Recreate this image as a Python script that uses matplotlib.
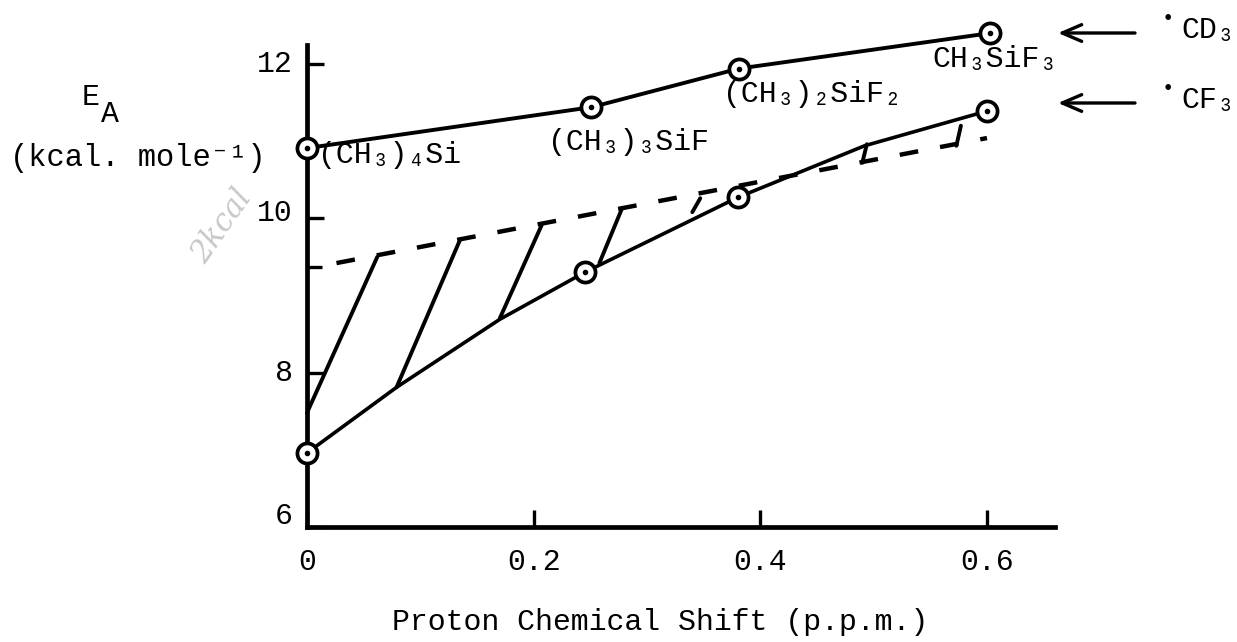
import matplotlib
matplotlib.use("Agg")
import matplotlib.pyplot as plt
import matplotlib.transforms as mtransforms

# E_A for .CD3 attack (upper line) and .CF3 attack (lower curve)
cd3_shift = [0.0, 0.251, 0.381, 0.603]
cd3_ea = [10.91, 11.44, 11.94, 12.40]
compounds = ["(CH₃)₄Si", "(CH₃)₃SiF", "(CH₃)₂SiF₂", "CH₃SiF₃"]

cf3_shift = [0.0, 0.245, 0.380, 0.600]
cf3_ea = [6.96, 9.30, 10.27, 11.39]
# the hand drawn curve through the CF3 points
cf3_curve_shift = [0.0, 0.079, 0.170, 0.245, 0.380, 0.492, 0.600]
cf3_curve_ea = [6.96, 7.81, 8.69, 9.30, 10.27, 10.94, 11.39]

dash_shift = [0.026, 0.600]
dash_ea = [9.42, 11.04]

# hatch strokes between dashed line and CF3 curve, (shift, E_A) at each end
hatch_start = [(0.000, 7.48), (0.079, 7.81), (0.170, 8.70), (0.258, 9.42),
               (0.340, 10.08), (0.490, 10.72), (0.573, 10.94)]
hatch_end = [(0.062, 9.50), (0.135, 9.72), (0.207, 9.91), (0.278, 10.13),
             (0.347, 10.26), (0.494, 10.96), (0.577, 11.20)]

radicals = ["CD₃", "CF₃"]

x_ticks = [0, 0.2, 0.4, 0.6]
x_ticklabels = ["0", "0.2", "0.4", "0.6"]
y_ticks = [6, 8, 10, 12]
y_ticklabels = ["6", "8", "10", "12"]
y_marker = 9.37

plt.rcParams['font.family'] = ['Liberation Mono', 'DejaVu Sans Mono']
plt.rcParams['lines.scale_dashes'] = False

W, H = 1237, 642
FS = 21.5
fig = plt.figure(figsize=(W / 100, H / 100), dpi=100)
ax = fig.add_axes([0, 0, 1, 1])
ax.patch.set_visible(False)

# pixel layout of the scanned figure: x=0 at 307px, y=6 at 527px from top
x0, xs = 307, 1133.3
y6, ys = 527, 77.17
ax.set_xlim(-x0 / xs, (W - x0) / xs)
ax.set_ylim(6 - (H - y6) / ys, 6 + y6 / ys)


def put(px, py, s, **kw):
    kw.setdefault('fontsize', FS)
    kw.setdefault('va', 'baseline')
    fig.text(px / W, 1 - py / H, s, **kw)


# axes
for side in ['top', 'right']:
    ax.spines[side].set_visible(False)
ax.spines['left'].set_position(('data', 0))
ax.spines['bottom'].set_position(('data', 6))
ax.spines['left'].set_bounds(6, 12.25)
ax.spines['bottom'].set_bounds(0, 0.66)
ax.spines['left'].set_linewidth(3.4)
ax.spines['bottom'].set_linewidth(3.4)

ax.set_xticks(x_ticks, x_ticklabels)
ax.set_yticks(y_ticks, y_ticklabels)
ax.set_yticks([y_marker], minor=True)
ax.set_xticks([], minor=True)
ax.tick_params(axis='x', direction='in', length=12, width=2.4, labelsize=FS, pad=15)
ax.tick_params(axis='y', direction='in', length=12, width=2.4, labelsize=FS, pad=10)
ax.tick_params(axis='y', which='minor', direction='in', length=11, width=2.4)

for lab, up in zip(ax.get_yticklabels(), [14, 3, 8, 3]):
    lab.set_transform(lab.get_transform() +
                      mtransforms.ScaledTranslation(0, up / 100, fig.dpi_scale_trans))

# lines
ax.plot(cd3_shift, cd3_ea, color='k', lw=2.8, solid_capstyle='round', zorder=3)
ax.plot(cf3_curve_shift, cf3_curve_ea, color='k', lw=2.6, solid_capstyle='round', zorder=3)
ax.plot(dash_shift, dash_ea, color='k', lw=3.2, dashes=(13.5, 16), zorder=3)
for (xa, ya), (xb, yb) in zip(hatch_start, hatch_end):
    ax.plot([xa, xb], [ya, yb], color='k', lw=2.8, solid_capstyle='round', zorder=3)

for xs_, ys_ in [(cd3_shift, cd3_ea), (cf3_shift, cf3_ea)]:
    ax.plot(xs_, ys_, 'o', ms=14.5, mfc='white', mec='k', mew=2.7, zorder=4)
    ax.plot(xs_, ys_, 'o', ms=3, color='k', zorder=5)

# compound labels next to the CD3 points
for (px, py), name in zip([(318, 163), (548, 150), (723, 102), (932, 67)], compounds):
    put(px, py, name)

# radical labels with arrows
for rad, y in zip(radicals, [33, 103]):
    put(1168, y - 14, "•", fontsize=15, ha='center', va='center')
    put(1181, y + 5, rad)
    ax.annotate("", xy=(1058 / W, 1 - y / H), xytext=(1135 / W, 1 - y / H),
                xycoords='figure fraction', textcoords='figure fraction',
                arrowprops=dict(arrowstyle='->,head_length=0.7,head_width=0.3',
                                mutation_scale=20, lw=2.4, color='k',
                                shrinkA=0, shrinkB=0))

# axis titles
put(82, 105, "E")
put(101, 122, "A")
put(10, 166, "(kcal. mole⁻¹)", fontsize=22)
put(660, 630, "Proton Chemical Shift (p.p.m.)", ha='center')

# faint pencil note on the scan
fig.text(222 / W, 1 - 226 / H, "2kcal", fontsize=22, color='#c8c8c8',
         family='DejaVu Serif', style='italic', rotation=55,
         ha='center', va='center')

fig.savefig("out.png", dpi=100)
